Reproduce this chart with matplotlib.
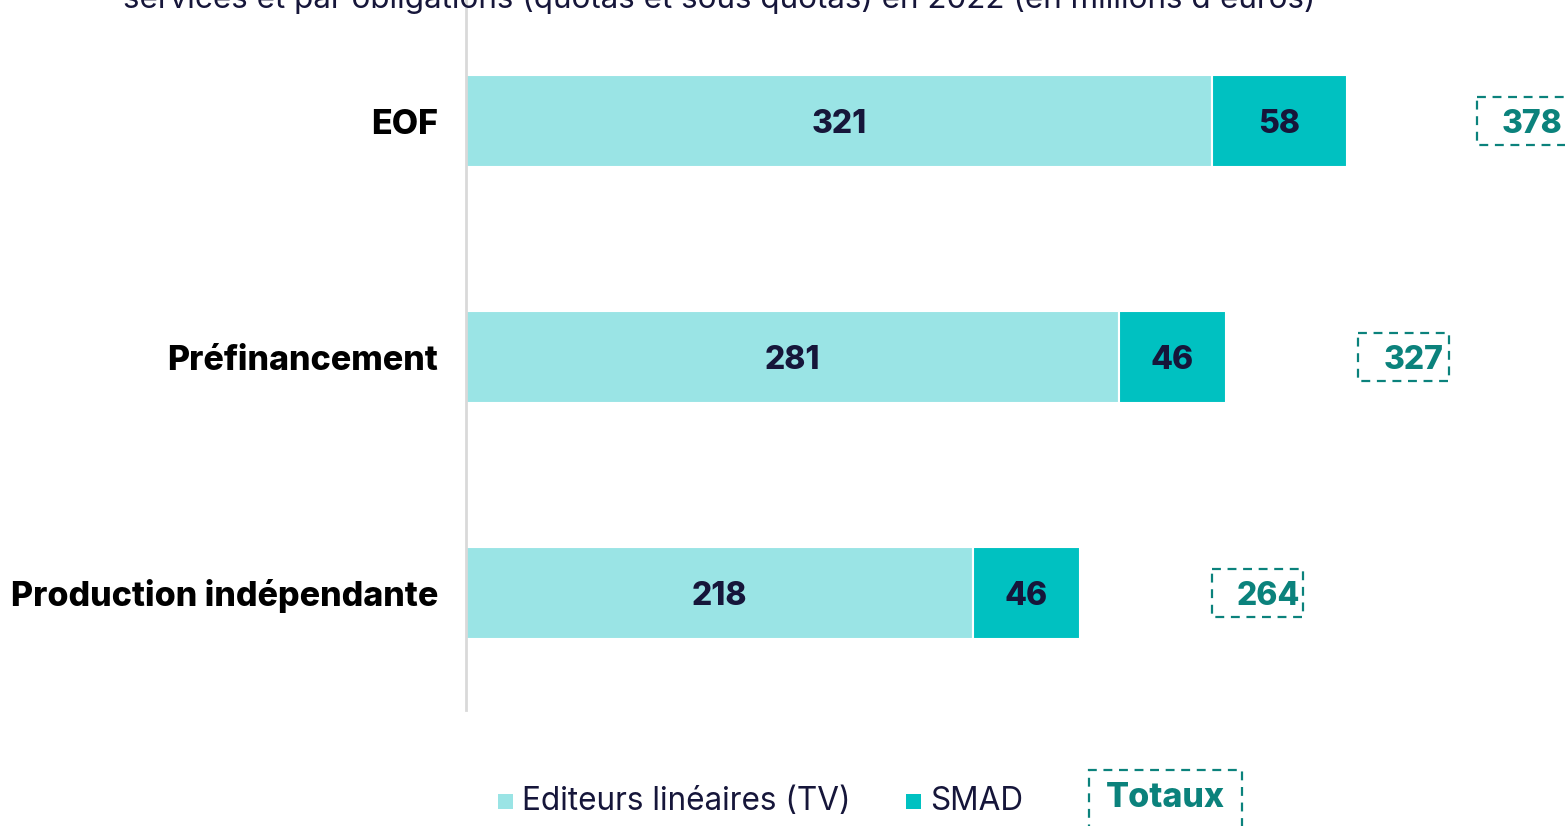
import matplotlib
matplotlib.use("Agg")
import matplotlib.pyplot as plt
from matplotlib.patches import Rectangle

categories = ["EOF", "Préfinancement", "Production indépendante"]
tv_values = [321, 281, 218]
smad_values = [58, 46, 46]
totals = [378, 327, 264]
legend_labels = ["Editeurs linéaires (TV)", "SMAD", "Totaux"]
title = "services et par obligations (quotas et sous quotas) en 2022 (en millions d'euros)"

C_TV = "#9ae4e5"
C_SMAD = "#00c1c1"
C_TOT = "#0b827c"
C_TXT = "#16163a"
FONT = ["Inter", "DejaVu Sans"]

plt.rcParams["font.family"] = FONT
W, H = 1565, 826
PX = 2.324  # pixels per unit
fig = plt.figure(figsize=(W / 100, H / 100), dpi=100)
ax = fig.add_axes([466 / W, 1 - 710 / H, 1 - 466 / W, 710 / H])

y = list(range(len(categories)))
ax.barh(y, tv_values, height=0.39, color=C_TV, edgecolor="white", linewidth=1.5)
ax.barh(y, smad_values, left=tv_values, height=0.39, color=C_SMAD, edgecolor="white", linewidth=1.5)

for i in y:
    ax.text(tv_values[i] / 2, i, str(tv_values[i]), ha="center", va="center_baseline",
            fontsize=23, fontweight="heavy", color=C_TXT)
    ax.text(tv_values[i] + smad_values[i] / 2, i, str(smad_values[i]), ha="center",
            va="center_baseline", fontsize=23, fontweight="heavy", color=C_TXT)
    bx = totals[i] + 57
    ax.add_patch(Rectangle((bx, i - 0.1), 91 / PX, 0.2, facecolor="none", edgecolor=C_TOT,
                           linestyle=(0, (4, 3)), linewidth=1.6, clip_on=False))
    ax.text(bx + 25 / PX, i, str(totals[i]), ha="left", va="center_baseline",
            fontsize=23, fontweight="heavy", color=C_TOT, clip_on=False)

ax.set_xlim(0, (W - 466) / PX)
ax.set_ylim(2.496, -0.513)
ax.set_yticks(y)
ax.set_yticklabels(categories, fontsize=24.5, fontweight="heavy", color="black")
ax.tick_params(axis="y", length=0, pad=20)
ax.set_xticks([])
for s in ["top", "right", "bottom"]:
    ax.spines[s].set_visible(False)
ax.spines["left"].set_color("#d9d9d9")
ax.spines["left"].set_linewidth(2)

fig.text(123 / W, 1 - 8 / H, title, ha="left", va="baseline", fontsize=22.6, color=C_TXT)

# legend
ly = 1 - 801 / H
fig.patches.append(Rectangle((498 / W, 1 - 809 / H), 15 / W, 15 / H, transform=fig.transFigure,
                             facecolor=C_TV, edgecolor="none"))
fig.text(522 / W, ly, legend_labels[0], ha="left", va="center", fontsize=22.7, color=C_TXT)
fig.patches.append(Rectangle((906 / W, 1 - 809 / H), 15 / W, 15 / H, transform=fig.transFigure,
                             facecolor=C_SMAD, edgecolor="none"))
fig.text(930 / W, ly, legend_labels[1], ha="left", va="center", fontsize=22.7, color=C_TXT)
fig.patches.append(Rectangle((1089 / W, -0.02), 153 / W, (826 - 770) / H + 0.02, transform=fig.transFigure,
                             facecolor="none", edgecolor=C_TOT, linestyle=(0, (4, 3)), linewidth=1.6))
fig.text(1165 / W, 1 - 798 / H, legend_labels[2], ha="center", va="center", fontsize=24.5,
         fontweight="heavy", color=C_TOT)

fig.savefig("out.png", dpi=100)
